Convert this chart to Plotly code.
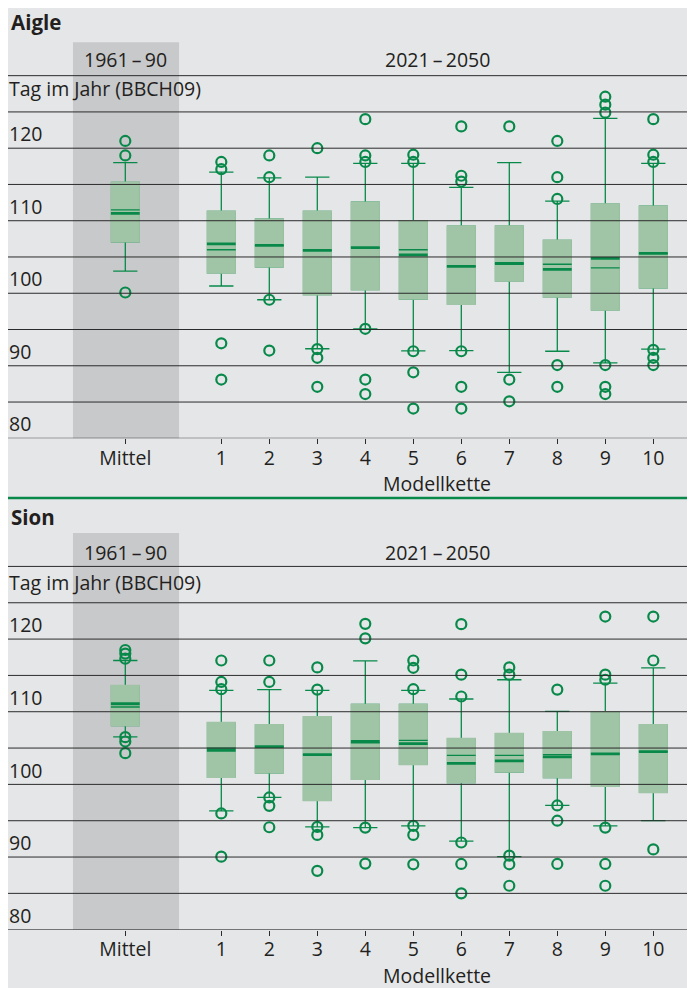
import plotly.graph_objects as go

# ---------------- data ----------------
positions = [-1, 1, 2, 3, 4, 5, 6, 7, 8, 9, 10]
tick_text = ["Mittel", "1", "2", "3", "4", "5", "6", "7", "8", "9", "10"]
y_ticks = [80, 90, 100, 110, 120]
grid_values = [80, 85, 90, 95, 100, 105, 110, 115, 120, 125, 130]

# Aigle
aigle_q1 = [107.1, 102.8, 103.65, 99.8, 100.5, 99.2, 98.5, 101.7, 99.5, 97.7, 100.75]
aigle_median = [111.0, 106.8, 106.6, 105.9, 106.3, 105.3, 103.7, 104.1, 103.3, 104.8, 105.5]
aigle_mean = [111.5, 106.0, 106.6, 105.9, 106.3, 106.0, 103.7, 104.1, 104.0, 103.5, 105.5]
aigle_q3 = [115.3, 111.3, 110.2, 111.3, 112.55, 110.0, 109.25, 109.25, 107.3, 112.3, 112.0]
aigle_low = [103.05, 101.0, 99.1, 92.35, 95.1, 92.05, 92.1, 89.1, 92.0, 90.4, 92.3]
aigle_high = [118.0, 116.7, 115.9, 116.0, 117.9, 117.9, 114.6, 118.0, 112.7, 124.1, 117.9]
aigle_outliers = [
    [121.0, 119.0, 100.1],
    [118.1, 117.1, 93.1, 88.1],
    [119.0, 116.0, 99.1, 92.1],
    [120.0, 92.3, 91.1, 87.1],
    [124.0, 119.0, 118.1, 95.1, 88.1, 86.1],
    [119.1, 118.1, 92.0, 89.1, 84.1],
    [123.0, 116.2, 115.4, 92.0, 87.1, 84.1],
    [123.0, 88.1, 85.1],
    [121.0, 116.0, 113.0, 90.1, 87.1],
    [127.1, 126.0, 124.9, 90.1, 87.1, 86.1],
    [124.0, 119.1, 118.1, 92.2, 91.1, 90.1],
]

# Sion
sion_q1 = [108.1, 101.0, 101.6, 97.8, 100.7, 102.75, 100.25, 101.7, 100.95, 99.75, 98.9]
sion_median = [111.1, 104.7, 105.2, 104.1, 105.9, 105.6, 102.9, 103.25, 103.8, 104.2, 104.5]
sion_mean = [110.65, 105.0, 105.2, 104.1, 105.7, 106.05, 104.0, 104.0, 104.1, 104.2, 104.5]
sion_q3 = [113.6, 108.5, 108.2, 109.3, 111.0, 111.0, 106.3, 107.0, 107.25, 110.0, 108.2]
sion_low = [106.55, 96.35, 98.2, 94.15, 94.05, 94.3, 92.2, 90.05, 97.1, 94.3, 95.0]
sion_high = [117.05, 112.95, 113.05, 112.95, 117.0, 112.95, 111.75, 114.4, 110.05, 113.95, 116.05]
sion_outliers = [
    [118.5, 118.0, 117.3, 106.5, 105.9, 104.3],
    [117.05, 114.1, 113.1, 96.0, 90.05],
    [117.05, 114.1, 98.2, 97.05, 94.1],
    [116.1, 113.05, 94.15, 93.05, 88.1],
    [122.1, 120.1, 94.05, 89.1],
    [117.05, 116.05, 113.1, 94.3, 93.05, 89.0],
    [122.05, 115.1, 112.1, 92.0, 89.05, 85.0],
    [116.1, 115.1, 90.2, 89.0, 86.05],
    [113.05, 97.1, 95.0, 89.05],
    [123.1, 115.1, 114.4, 94.05, 89.05, 86.05],
    [123.1, 117.05, 91.05],
]

stations = [
    ("Aigle", aigle_q1, aigle_median, aigle_mean, aigle_q3, aigle_low, aigle_high, aigle_outliers),
    ("Sion", sion_q1, sion_median, sion_mean, sion_q3, sion_low, sion_high, sion_outliers),
]

# ---------------- style ----------------
W, H = 695, 988
OFF = 8  # page body margin
GREEN = "#08894a"
BOX_FILL = "#a0c4a6"
BG = "#e5e6e8"
SHADE = "#c8c9cb"
GRID = "#2b2b2b"
TEXT = "#231f20"
FONT = "Open Sans"


def px(x):
    # page pixel -> paper x
    return (x - OFF) / W


def py(y):
    # page pixel -> paper y
    return 1 - (y - OFF) / H


# panel geometry in page pixels
panels = [
    dict(top=42.3, bottom=438.3, title=22, header=60, label=88.5, xtitle=483),
    dict(top=533.0, bottom=929.7, title=517, header=552, label=582, xtitle=975),
]

fig = go.Figure()
shapes = []
annotations = []

# separator line between the two panels
shapes.append(dict(type="line", xref="paper", yref="paper", x0=0, x1=1, y0=py(498), y1=py(498),
                   line=dict(color=GREEN, width=2.5), layer="above"))

for i, (name, q1, med, mean, q3, low, high, outl) in enumerate(stations):
    xa = "x" if i == 0 else "x2"
    ya = "y" if i == 0 else "y2"
    common = dict(xaxis=xa, yaxis=ya, hoverinfo="skip", showlegend=False, boxpoints=False)

    # whiskers (dark)
    fig.add_trace(go.Box(x=positions, q1=q1, median=med, q3=q3, lowerfence=low, upperfence=high,
                         width=0.575, whiskerwidth=0.88, fillcolor=BOX_FILL,
                         line=dict(color=GREEN, width=1.3), **common))
    # box body cover (hides dark outline)
    fig.add_trace(go.Box(x=positions, q1=q1, median=med, q3=q3, lowerfence=q1, upperfence=q3,
                         width=0.575, whiskerwidth=0, fillcolor=BOX_FILL,
                         line=dict(color=BOX_FILL, width=1.6), **common))
    # mean line (thin)
    fig.add_trace(go.Box(x=positions, q1=mean, median=mean, q3=mean, lowerfence=mean, upperfence=mean,
                         width=0.6, whiskerwidth=0, fillcolor="rgba(0,0,0,0)",
                         line=dict(color=GREEN, width=1.3), **common))
    # median line (thick)
    fig.add_trace(go.Box(x=positions, q1=med, median=med, q3=med, lowerfence=med, upperfence=med,
                         width=0.6, whiskerwidth=0, fillcolor="rgba(0,0,0,0)",
                         line=dict(color=GREEN, width=2.8), **common))
    # outliers
    ox, oy = [], []
    for p, vals in zip(positions, outl):
        for v in vals:
            ox.append(p)
            oy.append(v)
    fig.add_trace(go.Scatter(x=ox, y=oy, mode="markers", xaxis=xa, yaxis=ya, hoverinfo="skip",
                             showlegend=False, cliponaxis=False,
                             marker=dict(symbol="circle-open", size=10, color=GREEN,
                                         line=dict(width=2.2, color=GREEN))))

    xref_dom = "x domain" if i == 0 else "x2 domain"
    yref_dom = "y domain" if i == 0 else "y2 domain"
    # shaded reference period
    shapes.append(dict(type="rect", xref=xa, yref=yref_dom, x0=-2.09, x1=0.12, y0=0, y1=1,
                       fillcolor=SHADE, line=dict(width=0), layer="below"))
    # grid lines above boxes
    for g in grid_values:
        shapes.append(dict(type="line", xref=xref_dom, yref=ya, x0=0, x1=1, y0=g, y1=g,
                           line=dict(color=GRID, width=1), layer="above"))

    p = panels[i]
    f = dict(size=19.5, color=TEXT, family=FONT)
    annotations += [
        dict(text="<b>" + name + "</b>", xref="paper", yref="paper", x=px(9), y=py(p["title"]),
             xanchor="left", yanchor="middle", showarrow=False,
             font=dict(size=20.5, color=TEXT, family=FONT)),
        dict(text="1961\u2009–\u200990", xref=xa, yref="paper", x=-1, y=py(p["header"]),
             xanchor="center", yanchor="middle", showarrow=False, font=f),
        dict(text="2021\u2009–\u20092050", xref=xa, yref="paper", x=5.5, y=py(p["header"]),
             xanchor="center", yanchor="middle", showarrow=False, font=f),
        dict(text="Tag im Jahr (BBCH09)", xref="paper", yref="paper", x=px(7), y=py(p["label"]),
             xanchor="left", yanchor="middle", showarrow=False, font=f),
        dict(text="Modellkette", xref=xa, yref="paper", x=5.5, y=py(p["xtitle"]),
             xanchor="center", yanchor="middle", showarrow=False, font=f),
    ]

# x mapping: page_x = 221.3 + (pos - 1) * 48
xrange = [1 + (OFF - 221.3) / 48, 1 + (OFF + W - 221.3) / 48]
xaxis_common = dict(range=xrange, domain=[0, 1], tickmode="array", tickvals=positions, ticktext=tick_text,
                    ticks="outside", ticklen=5, tickwidth=1, tickcolor=GRID, showgrid=False, zeroline=False,
                    showline=False, fixedrange=True, automargin=False, ticklabelstandoff=-3,
                    tickfont=dict(size=19.5, color=TEXT, family=FONT))
yaxis_common = dict(range=[80, 134.6], tickmode="array", tickvals=y_ticks, ticktext=[str(v) for v in y_ticks],
                    ticklabelposition="inside top", ticks="", showgrid=False, zeroline=False, showline=False,
                    fixedrange=True, automargin=False, ticklabelstandoff=-2,
                    tickfont=dict(size=19.5, color=TEXT, family=FONT))

fig.update_layout(
    width=W, height=H,
    margin=dict(l=0, r=0, t=0, b=0),
    paper_bgcolor=BG, plot_bgcolor=BG,
    boxmode="overlay",
    showlegend=False,
    xaxis=dict(anchor="y", **xaxis_common),
    yaxis=dict(anchor="x", domain=[py(panels[0]["bottom"]), py(panels[0]["top"])], **yaxis_common),
    xaxis2=dict(anchor="y2", **xaxis_common),
    yaxis2=dict(anchor="x2", domain=[py(panels[1]["bottom"]), py(panels[1]["top"])], **yaxis_common),
    shapes=shapes,
    annotations=annotations,
)

fig.write_html("out.html")
